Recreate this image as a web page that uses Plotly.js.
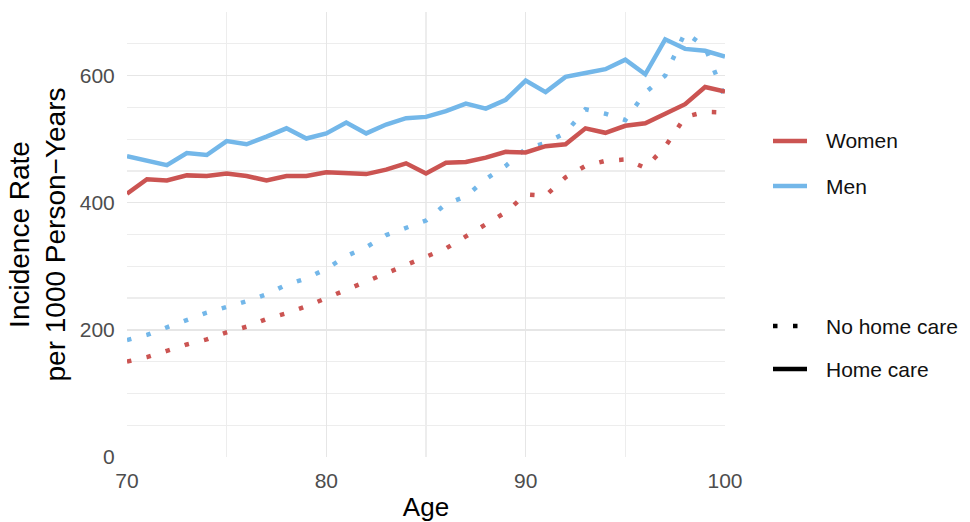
<!DOCTYPE html>
<html>
<head>
<meta charset="utf-8">
<script src="https://cdn.plot.ly/plotly-3.0.1.min.js"></script>
<style>html,body{margin:0;padding:0;background:#fff;}#chart{width:970px;height:522px;}</style>
</head>
<body>
<div id="chart"></div>
<script>
const ages = [70,71,72,73,74,75,76,77,78,79,80,81,82,83,84,85,86,87,88,89,90,91,92,93,94,95,96,97,98,99,100];
const womenHomeCare = [414,437,435,443,442,446,442,435,442,442,448,446,445,452,462,446,463,464,471,480,479,489,492,517,510,521,525,540,555,582,575];
const menHomeCare   = [473,466,459,478,475,497,492,504,517,501,509,526,509,523,533,535,544,556,548,562,592,574,598,604,610,625,602,657,642,639,630];
const womenNoHomeCare = [150,157,167,177,185,196,205,217,226,237,250,263,276,289,303,315,328,347,367,385,413,411,440,458,466,468,455,488,535,543,542];
const menNoHomeCare   = [184,192,204,215,227,236,245,256,271,281,296,316,330,349,361,372,398,410,437,458,485,494,510,547,540,530,573,600,668,645,565];
const sexLabels = ["Women", "Men"];
const careLabels = ["No home care", "Home care"];
const xTicks = [70, 80, 90, 100];
const yTicks = [0, 200, 400, 600];

const RED = "#CB5452";
const BLUE = "#73B7E9";
const DOT = "4.5px,15.5px";
const LW = 4.5;

const traces = [
  {x: ages, y: womenNoHomeCare, mode: "lines", name: sexLabels[0] + ", " + careLabels[0], line: {color: RED, width: LW, dash: DOT}},
  {x: ages, y: menNoHomeCare, mode: "lines", name: sexLabels[1] + ", " + careLabels[0], line: {color: BLUE, width: LW, dash: DOT}},
  {x: ages, y: womenHomeCare, mode: "lines", name: sexLabels[0] + ", " + careLabels[1], line: {color: RED, width: LW}},
  {x: ages, y: menHomeCare, mode: "lines", name: sexLabels[1] + ", " + careLabels[1], line: {color: BLUE, width: LW}}
];

// legend geometry (paper coordinates derived from pixel layout)
const L = 127, R = 245, T = 12, B = 65, W = 970, H = 522;
const pw = W - L - R, ph = H - T - B;
const px = v => (v - L) / pw;
const py = v => (H - B - v) / ph;

const legendRows = [
  {label: sexLabels[0], y: 141, color: RED, dash: "solid"},
  {label: sexLabels[1], y: 186, color: BLUE, dash: "solid"},
  {label: careLabels[0], y: 326, color: "#000000", dash: DOT},
  {label: careLabels[1], y: 369, color: "#000000", dash: "solid"}
];
const shapes = legendRows.map(r => ({
  type: "line", xref: "paper", yref: "paper",
  x0: px(773), x1: r.dash === "solid" ? px(807) : px(798.5), y0: py(r.y), y1: py(r.y),
  line: {color: r.color, width: LW, dash: r.dash}
}));
const annotations = legendRows.map(r => ({
  xref: "paper", yref: "paper", x: px(824), y: py(r.y), xanchor: "left", yanchor: "middle",
  text: r.label, showarrow: false, font: {family: "Liberation Sans, Arial, sans-serif", size: 21, color: "#111111"}
}));

const layout = {
  width: W, height: H,
  margin: {l: L, r: R, t: T, b: B, pad: 0},
  paper_bgcolor: "#ffffff", plot_bgcolor: "#ffffff",
  showlegend: false,
  font: {family: "Liberation Sans, Arial, sans-serif"},
  xaxis: {
    range: [70, 100], tickvals: xTicks, ticktext: xTicks.map(String),
    showgrid: true, gridcolor: "#E6E6E6", gridwidth: 1.5,
    minor: {dtick: 5, showgrid: true, gridcolor: "#EDEDED", gridwidth: 1.2},
    zeroline: false, showline: false,
    ticks: "outside", ticklen: 5, tickcolor: "rgba(0,0,0,0)",
    tickfont: {size: 21, color: "#4D4D4D"},
    title: {text: "Age", font: {size: 26, color: "#000000"}, standoff: 22}
  },
  yaxis: {
    range: [0, 700], tickvals: yTicks, ticktext: yTicks.map(String),
    showgrid: true, gridcolor: "#E6E6E6", gridwidth: 1.5,
    minor: {dtick: 50, showgrid: true, gridcolor: "#EDEDED", gridwidth: 1.2},
    zeroline: false, showline: false,
    ticks: "outside", ticklen: 7, tickcolor: "rgba(0,0,0,0)",
    tickfont: {size: 21, color: "#4D4D4D"},
    title: {text: "Incidence Rate<br>per 1000 Person\u2212Years", font: {size: 28, color: "#000000"}, standoff: 5}
  },
  shapes: shapes,
  annotations: annotations
};

Plotly.newPlot("chart", traces, layout, {displayModeBar: false, staticPlot: true});
</script>
</body>
</html>
